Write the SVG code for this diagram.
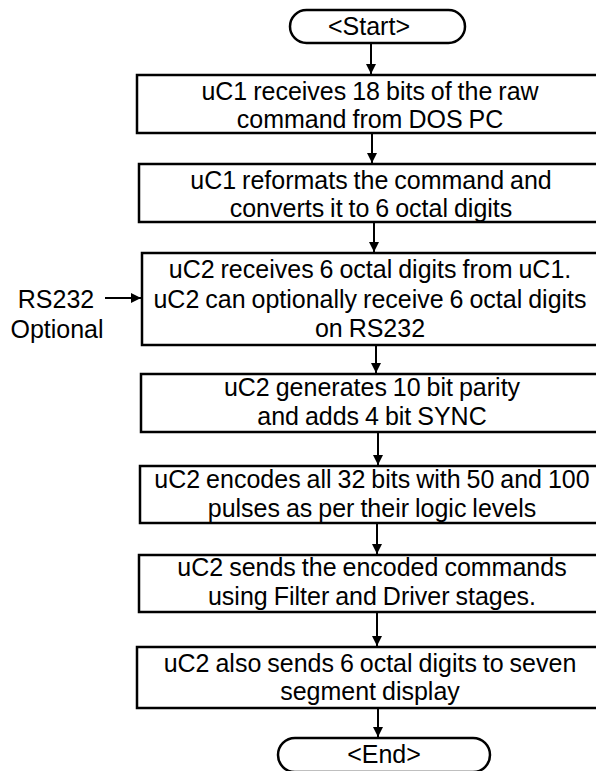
<svg xmlns="http://www.w3.org/2000/svg" width="596" height="771" viewBox="0 0 596 771">
<style>
.box{fill:#fff;stroke:#000;stroke-width:2.5}
.t{font-family:"Liberation Sans",Arial,sans-serif;font-size:25px;word-spacing:-1px;fill:#000;text-anchor:middle}
.c{stroke:#000;stroke-width:2;fill:none}
</style>
<defs>
<marker id="ah" viewBox="0 0 10 10" refX="10" refY="5" markerWidth="10" markerHeight="10" markerUnits="userSpaceOnUse" orient="auto">
<path d="M0,0 L10,5 L0,10 Z" fill="#000"/>
</marker>
</defs>
<rect width="596" height="771" fill="#fff"/>
<g id="start">
<rect class="box" x="290" y="10" width="175" height="33" rx="16.5" ry="16.5"/>
<text class="t" x="369" y="35">&lt;Start&gt;</text>
</g>
<g id="n1">
<rect class="box" x="137" y="75" width="470" height="58"/>
<text class="t" x="370" y="100">uC1 receives 18 bits of the raw</text>
<text class="t" x="370" y="128">command from DOS PC</text>
</g>
<g id="n2">
<rect class="box" x="139" y="164" width="468" height="58"/>
<text class="t" x="371" y="189">uC1 reformats the command and</text>
<text class="t" x="371" y="217">converts it to 6 octal digits</text>
</g>
<g id="n3">
<rect class="box" x="142" y="253" width="465" height="92"/>
<text class="t" x="370" y="278">uC2 receives 6 octal digits from uC1.</text>
<text class="t" x="370" y="308">uC2 can optionally receive 6 octal digits</text>
<text class="t" x="370" y="337">on RS232</text>
</g>
<g id="rs232">
<text class="t" x="56" y="308">RS232</text>
<text class="t" x="57" y="338">Optional</text>
</g>
<g id="n4">
<rect class="box" x="141" y="374" width="466" height="58"/>
<text class="t" x="372" y="396">uC2 generates 10 bit parity</text>
<text class="t" x="372" y="425">and adds 4 bit SYNC</text>
</g>
<g id="n5">
<rect class="box" x="140" y="466" width="467" height="57"/>
<text class="t" x="372" y="488">uC2 encodes all 32 bits with 50 and 100</text>
<text class="t" x="372" y="517">pulses as per their logic levels</text>
</g>
<g id="n6">
<rect class="box" x="139" y="555" width="468" height="57"/>
<text class="t" x="372" y="576">uC2 sends the encoded commands</text>
<text class="t" x="372" y="605">using Filter and Driver stages.</text>
</g>
<g id="n7">
<rect class="box" x="137" y="647" width="470" height="61"/>
<text class="t" x="370" y="672">uC2 also sends 6 octal digits to seven</text>
<text class="t" x="370" y="700">segment display</text>
</g>
<g id="end">
<rect class="box" x="278" y="738" width="212" height="34" rx="17" ry="17"/>
<text class="t" x="384" y="763">&lt;End&gt;</text>
</g>
<g id="connectors">
<line class="c" x1="371" y1="43" x2="371" y2="74" marker-end="url(#ah)"/>
<line class="c" x1="372" y1="133" x2="372" y2="163" marker-end="url(#ah)"/>
<line class="c" x1="374" y1="222" x2="374" y2="252" marker-end="url(#ah)"/>
<line class="c" x1="376" y1="345" x2="376" y2="373" marker-end="url(#ah)"/>
<line class="c" x1="378" y1="432" x2="378" y2="465" marker-end="url(#ah)"/>
<line class="c" x1="377" y1="523" x2="377" y2="554" marker-end="url(#ah)"/>
<line class="c" x1="377" y1="612" x2="377" y2="646" marker-end="url(#ah)"/>
<line class="c" x1="378" y1="708" x2="378" y2="737" marker-end="url(#ah)"/>
<line class="c" x1="105" y1="298" x2="141" y2="298" marker-end="url(#ah)"/>
</g>
</svg>
